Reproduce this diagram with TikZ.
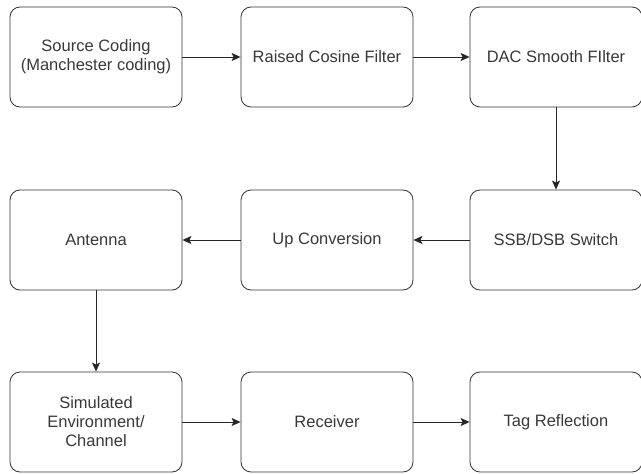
\documentclass[tikz,border=0pt]{standalone}
\usepackage{fontspec}
\setmainfont{Liberation Sans}
\usepackage{tikz}
\usetikzlibrary{arrows.meta,shapes}

\tikzset{
  block/.style={draw=black!80, line width=0.8bp, rounded corners=10bp, minimum width=172bp, minimum height=100bp, align=center, text=black!78, font=\fontsize{16.5bp}{19bp}\selectfont},
  link/.style={draw=black!85, line width=0.9bp, -{Stealth[length=9bp,width=8bp,inset=2bp]}}
}

\begin{document}
\begin{tikzpicture}

\useasboundingbox (0bp,0bp) rectangle (641bp,-474bp);

\node (src) at (96bp,-57bp)[block] {Source Coding\\(Manchester coding)};
\node (rcf) at (327bp,-57bp)[block] {Raised Cosine Filter};
\node (dac) at (556bp,-57bp)[block] {DAC Smooth FIlter};
\node (ssb) at (556bp,-240bp)[block] {SSB/DSB Switch};
\node (upc) at (327bp,-240bp)[block] {Up Conversion};
\node (ant) at (96bp,-240bp)[block] {Antenna};
\node (env) at (96bp,-422bp)[block] {Simulated\\Environment/\\Channel};
\node (rcv) at (327bp,-422bp)[block] {Receiver};
\node (tag) at (556bp,-422bp)[block] {Tag Reflection};

\draw[link] (src) -- (rcf);
\draw[link] (rcf) -- (dac);
\draw[link] (dac) -- (ssb);
\draw[link] (ssb) -- (upc);
\draw[link] (upc) -- (ant);
\draw[link] (ant) -- (env);
\draw[link] (env) -- (rcv);
\draw[link] (rcv) -- (tag);
\end{tikzpicture}
\end{document}
